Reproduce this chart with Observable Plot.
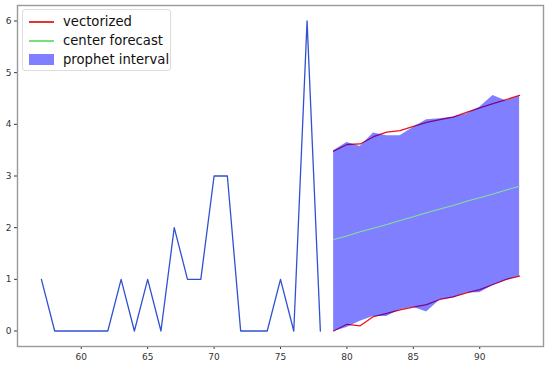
<!DOCTYPE html>
<html><head><meta charset="utf-8">
<script src="https://cdn.jsdelivr.net/npm/d3@7"></script>
<script src="https://cdn.jsdelivr.net/npm/@observablehq/plot@0.6"></script>
<style>
body{margin:0;background:#fff;}
#wrap{position:relative;width:550px;height:368px;}
#legend{position:absolute;left:22px;top:9px;width:147px;height:60px;background:#fff;border:1px solid #ddd;border-radius:3px;font-family:"DejaVu Sans",sans-serif;font-size:13.2px;color:#111;}
.row{position:absolute;left:6px;height:18px;line-height:18px;white-space:nowrap;}
.sw{position:absolute;left:0;width:25px;}
.lab{position:absolute;left:34px;top:0;}
</style></head><body>
<div id="wrap"><div id="legend"></div></div>
<script>
const actualX = [57,58,59,60,61,62,63,64,65,66,67,68,69,70,71,72,73,74,75,76,77,78];
const actualY = [1,0,0,0,0,0,1,0,1,0,2,1,1,3,3,0,0,0,1,0,6,0];
const fcX = [79,80,81,82,83,84,85,86,87,88,89,90,91,92,93];
const centerY = [1.77,1.84,1.92,1.99,2.06,2.14,2.21,2.29,2.36,2.43,2.51,2.58,2.65,2.73,2.80];
const vecUpper = [3.48,3.61,3.62,3.76,3.85,3.88,3.96,4.04,4.09,4.14,4.23,4.32,4.40,4.48,4.56];
const vecLower = [0.0,0.13,0.10,0.28,0.34,0.41,0.46,0.51,0.61,0.66,0.74,0.80,0.90,1.00,1.06];
const propUpper = [3.49,3.65,3.57,3.83,3.78,3.78,3.94,4.09,4.11,4.14,4.20,4.33,4.56,4.45,4.54];
const propLower = [-0.01,0.07,0.19,0.28,0.28,0.41,0.46,0.37,0.60,0.64,0.74,0.74,0.88,0.98,1.06];
const xTicks = [60,65,70,75,80,85,90];
const yTicks = [0,1,2,3,4,5,6];
const legendItems = ["vectorized","center forecast","prophet interval"];

const actual = actualX.map((x,i)=>({x,y:actualY[i]}));
const fc = fcX.map((x,i)=>({x,c:centerY[i],vu:vecUpper[i],vl:vecLower[i],pu:propUpper[i],pl:propLower[i]}));

const chart = Plot.plot({
  width:550, height:368,
  marginLeft:17, marginRight:7, marginTop:5, marginBottom:22,
  style:{fontFamily:"DejaVu Sans, sans-serif", fontSize:"9px", color:"#333", background:"#fff"},
  x:{domain:[55.2,94.8], ticks:xTicks, tickFormat:d=>String(d), tickSize:3, tickPadding:4, label:null},
  y:{domain:[-0.3,6.3], ticks:yTicks, tickFormat:d=>String(d), tickSize:3, tickPadding:3, label:null},
  marks:[
    Plot.line(actual,{x:"x",y:"y",stroke:"#2f52d2",strokeWidth:1.3}),
    Plot.line(fc,{x:"x",y:"vu",stroke:"#f01010",strokeWidth:1.3}),
    Plot.line(fc,{x:"x",y:"vl",stroke:"#f01010",strokeWidth:1.3}),
    Plot.areaY(fc,{x:"x",y1:"pl",y2:"pu",fill:"#0000ff",fillOpacity:0.5}),
    Plot.line(fc,{x:"x",y:"c",stroke:"#88f088",strokeWidth:1.1,strokeOpacity:0.85}),
    Plot.frame({stroke:"#999",strokeWidth:1.4})
  ]
});
document.getElementById("wrap").prepend(chart);

const lg = document.getElementById("legend");
const swatches = [
  '<div class="sw" style="top:8px;height:1.6px;background:#e53333"></div>',
  '<div class="sw" style="top:8px;height:1.6px;background:#77e077"></div>',
  '<div class="sw" style="top:3px;height:11px;background:#7f7fff"></div>'
];
legendItems.forEach((t,i)=>{
  const r=document.createElement("div");
  r.className="row"; r.style.top=(3+i*19)+"px";
  r.innerHTML=swatches[i]+'<span class="lab">'+t+'</span>';
  lg.appendChild(r);
});
</script>
</body></html>
